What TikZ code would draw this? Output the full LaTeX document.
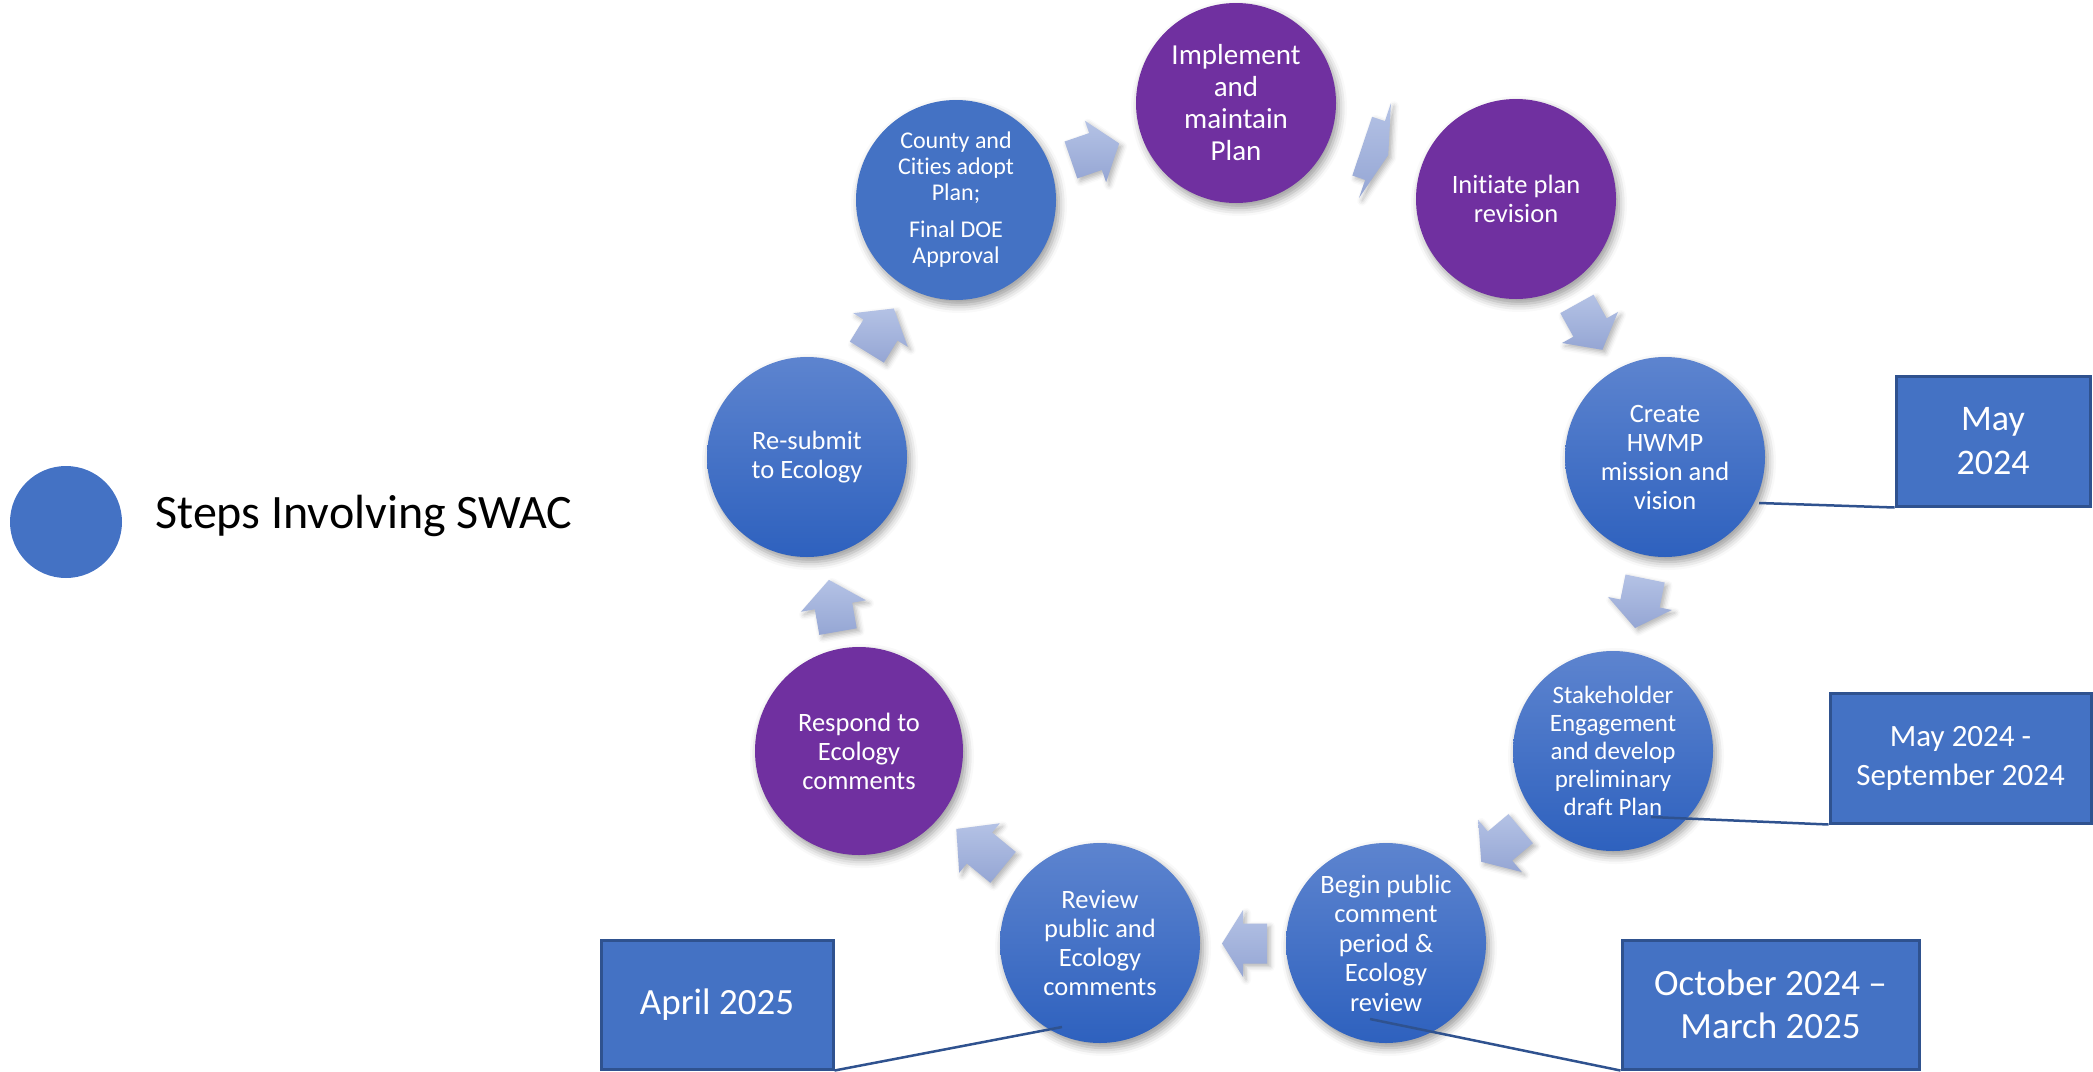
\documentclass[tikz,border=0pt]{standalone}
\usepackage{fontspec}
\setmainfont{Carlito}[Ligatures=CommonOff]
\usetikzlibrary{shadows.blur}

\definecolor{swacblue}{HTML}{4472C4}
\definecolor{swactop}{HTML}{5D84CF}
\definecolor{swacbottom}{HTML}{2E61BE}
\definecolor{planviolet}{HTML}{7030A0}
\definecolor{arrowtop}{HTML}{B4C2E5}
\definecolor{arrowbottom}{HTML}{95A6D4}
\definecolor{boxline}{HTML}{2F528F}

\tikzset{
  stepnode/.style={circle, minimum size=100pt, inner sep=0pt, text=white, align=center,
    font=\fontsize{13.25}{14.5}\selectfont,
    blur shadow={shadow xshift=1.5pt, shadow yshift=-2.5pt, shadow blur radius=4pt, shadow opacity=40}},
  swacstep/.style={stepnode, top color=swactop, bottom color=swacbottom},
  flatstep/.style={stepnode, fill=swacblue},
  planstep/.style={stepnode, fill=planviolet},
  datebox/.style={draw=boxline, line width=1.5pt, fill=swacblue, text=white, align=center,
    inner sep=0pt, font=\fontsize{18.5}{21.5}\selectfont},
  leader/.style={draw=boxline, line width=1.25pt},
  cyclearrow/.style={top color=arrowtop, bottom color=arrowbottom,
    blur shadow={shadow xshift=1.5pt, shadow yshift=-1.5pt, shadow blur radius=2.5pt, shadow opacity=30}}
}

\begin{document}
\begin{tikzpicture}[x=0.5pt, y=-0.5pt]
    \useasboundingbox (0,0) rectangle (2093,1071);

    % legend
    \node[circle, fill=swacblue, minimum size=56pt, inner sep=0pt] (swacdot) at (66,522) {};
    \node[anchor=base west, inner sep=0pt, font=\fontsize{24}{28}\selectfont] (swaclabel) at (155,528) {Steps Involving SWAC};

    % block arrows between the steps
    \foreach \px/\py/\ang/\sl/\sw/\hl/\hw in {
        1095.5/151.5/19/26/19.5/25/32.5,
        1375/150.5/-18.6/13.5/31/14/50,
        1590/327.5/-61/27/19/25.5/32,
        1640/603.5/-101.5/25.5/20/25/32.5,
        1500/846/-140/27/19/24.5/34,
        1243/943.5/180/24/20/21/33.5,
        979.5/848/140.6/30.5/20/30/32,
        833.5/606/100/26/19/26.5/33,
        880.5/330/58.3/26/20/25.3/32}
        \shade[cyclearrow, shift={(\px,\py)}, rotate=\ang]
            (-\sl,-\sw) -- (0,-\sw) -- (0,-\hw) -- (\hl,0) -- (0,\hw) -- (0,\sw) -- (-\sl,\sw) -- cycle;

    % the steps, clockwise from the top
    \node[planstep, font=\fontsize{14.5}{16}\selectfont] (implement) at (1236,103) {Implement\\and\\maintain\\Plan};
    \node[planstep] (initiate) at (1516,199) {Initiate plan\\revision};
    \node[swacstep] (create) at (1665,457) {Create\\HWMP\\mission and\\vision};
    \node[swacstep, font=\fontsize{12.5}{14}\selectfont] (stake) at (1613,751) {Stakeholder\\Engagement\\and develop\\preliminary\\draft Plan};
    \node[swacstep, font=\fontsize{13.25}{14.75}\selectfont] (begin) at (1386,943) {Begin public\\comment\\period \&\\Ecology\\review};
    \node[swacstep] (review) at (1100,943) {Review\\public and\\Ecology\\comments};
    \node[planstep, minimum size=104pt] (respond) at (859,751) {Respond to\\Ecology\\comments};
    \node[swacstep] (resubmit) at (807,457) {Re-submit\\to Ecology};
    \node[flatstep, font=\fontsize{12}{13}\selectfont] (county) at (956,200) {County and\\Cities adopt\\Plan;\\[5.5pt]Final DOE\\Approval};

    % dates
    \node[datebox, minimum width=97pt, minimum height=65pt, font=\fontsize{18}{22}\selectfont] (may) at (1993,441) {May\\2024};
    \node[datebox, minimum width=130.5pt, minimum height=65pt, font=\fontsize{15.5}{19.5}\selectfont] (sept) at (1960.5,758) {May 2024 -\\September 2024};
    \node[datebox, minimum width=148.5pt, minimum height=64.5pt] (oct) at (1770.5,1004.5) {October 2024 --\\March 2025};
    \node[datebox, minimum width=116pt, minimum height=64.5pt] (april) at (717,1004.5) {April 2025};

    \coordinate (may-tip) at (1759,503);
    \coordinate (sept-tip) at (1651,817);
    \coordinate (oct-tip) at (1370,1019);
    \coordinate (april-tip) at (1062,1027);
    \draw[leader] (may-tip) -- (may.south west);
    \draw[leader] (sept-tip) -- (sept.south west);
    \draw[leader] (oct-tip) -- (oct.south west);
    \draw[leader] (april-tip) -- (april.south east);
\end{tikzpicture}
\end{document}
